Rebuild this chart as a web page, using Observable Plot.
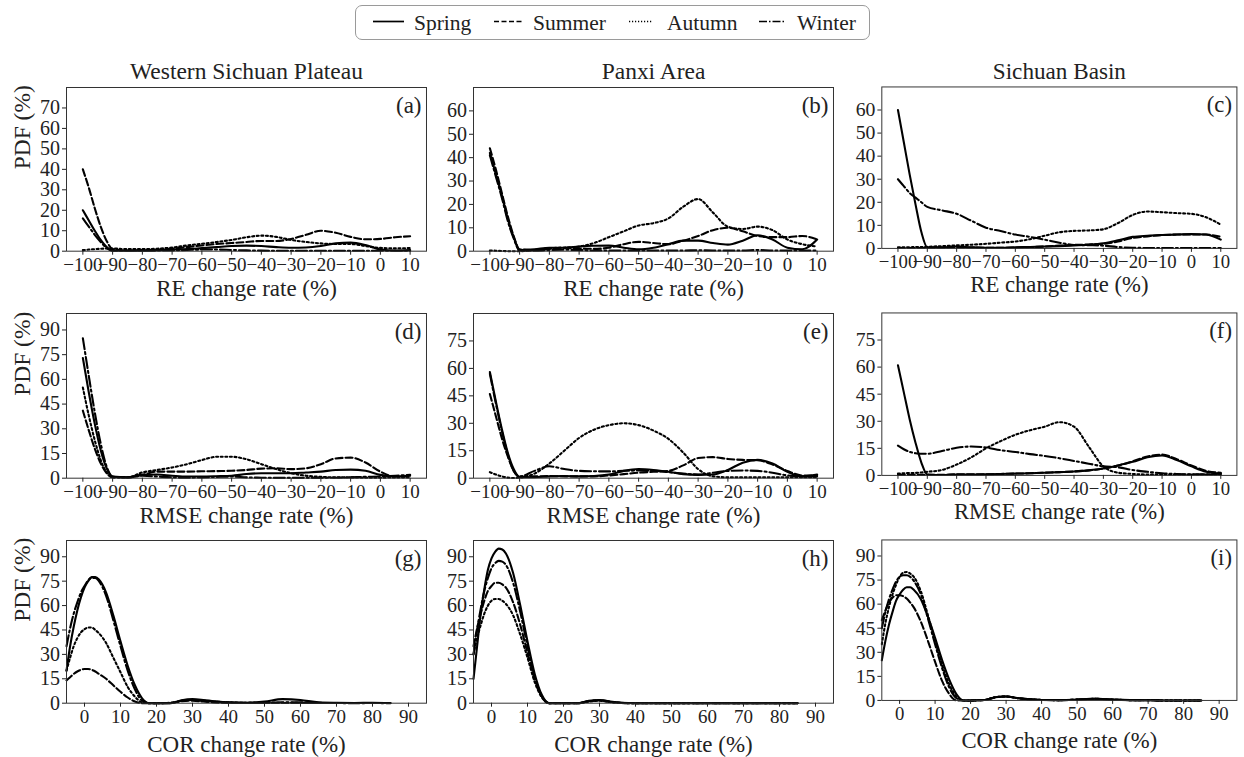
<!DOCTYPE html>
<html>
<head>
<meta charset="utf-8">
<script src="https://cdn.jsdelivr.net/npm/d3@7"></script>
<script src="https://cdn.jsdelivr.net/npm/@observablehq/plot@0.6"></script>
<style>
  html, body { margin: 0; padding: 0; background: #fff; }
  #root { position: relative; width: 1244px; height: 757px; background: #fff; overflow: hidden; font-family: "Liberation Serif", "Times New Roman", serif; }
  .panel { position: absolute; }
  #legend { position: absolute; left: 355px; top: 5px; width: 515px; height: 35px; border: 1px solid #9a9a9a; border-radius: 7px; box-sizing: border-box; }
</style>
</head>
<body>
<div id="root"><div id="legend"></div></div>
<script>
// ---------- labels ----------
const seasons = ["Spring", "Summer", "Autumn", "Winter"];
const regions = ["Western Sichuan Plateau", "Panxi Area", "Sichuan Basin"];
const xLabels = ["RE change rate (%)", "RMSE change rate (%)", "COR change rate (%)"];
const letters = ["(a)", "(b)", "(c)", "(d)", "(e)", "(f)", "(g)", "(h)", "(i)"];
const yLabel = "PDF (%)";

// ---------- tick values ----------
const rateTicks = [-100, -90, -80, -70, -60, -50, -40, -30, -20, -10, 0, 10];
const corTicks = [0, 10, 20, 30, 40, 50, 60, 70, 80, 90];
const yTicksA = [0, 10, 20, 30, 40, 50, 60, 70];
const yTicksBC = [0, 10, 20, 30, 40, 50, 60];
const yTicksD = [0, 15, 30, 45, 60, 75, 90];
const yTicksEF = [0, 15, 30, 45, 60, 75];
const yTicksGHI = [0, 15, 30, 45, 60, 75, 90];

// ---------- x sample points ----------
const gridRate = [-100,-98,-96,-94,-92,-90,-85,-80,-75,-70,-65,-60,-55,-50,-45,-40,-35,-30,-25,-20,-15,-10,-5,0,5,10];
const gridCor = [-5,-4,-3,-2,-1,0,1,2,3,4,6,8,10,12,14,16,18,20,24,27,30,33,36,40,45,50,55,60,65,70,75,80,85];

// ---------- (a) RE, Western Sichuan Plateau ----------
const aSpring = [20,15,10,5.5,2,0.3,0.2,0.3,0.5,0.8,1,1.5,2,2.5,2.7,2.5,2,1.7,1.8,2.5,3.8,4.2,3,0.8,0.3,0.5];
const aSummer = [40,31,21,12,5,1,0.3,0.5,0.8,1.2,2,2.8,3.5,4,4.5,5,5,6,8,10,9,7,5.8,6,6.8,7.3];
const aAutumn = [0.5,0.8,1,1.2,1.3,1.3,1,1,1.2,1.8,2.8,3.6,4.5,5.5,6.8,7.6,7,5.5,4.5,3.8,3.5,3.5,2.5,1.6,1.4,1.5];
const aWinter = [16,12,8,4.5,1.5,0.3,0.2,0.2,0.3,0.4,0.6,0.8,0.8,0.6,0.4,0.3,0.2,0.2,0.2,0.2,0.2,0.2,0.2,0.2,0.2,0.2];
// ---------- (b) RE, Panxi Area ----------
const bSpring = [42,33,24,14,6,0.5,0.8,1.5,1.5,2,2.3,2.4,1.5,0.8,1.5,3,4.5,4.5,3.5,2.8,4.5,6.8,5,1.5,0.8,5];
const bSummer = [44,35,25,15,6.5,0.8,0.5,1,1.5,1.2,1,1.5,3,4,3.5,3,4.5,6.5,9,10,8.5,6.5,6,6,6.5,5];
const bAutumn = [0.3,0.2,0.1,0,0,0,0.5,1.3,1.5,2,3.5,6,8.5,11,12,14,19,22.3,16.5,10.5,9.5,10.5,9,5,3,2];
const bWinter = [41,32,23,13,5.5,0.3,0.2,0.5,0.6,0.5,0.3,0.3,0.3,0.3,0.3,0.3,0.3,0.4,0.3,0.3,0.3,0.5,0.3,0.3,0.3,0.3];
// ---------- (c) RE, Sichuan Basin ----------
const cSpring = [60,46,32,19,7,0.5,0.5,0.8,0.5,0.3,0.3,0.5,0.6,0.8,1,1.3,1.6,2.2,3.5,5,5.5,5.8,6,6.2,6,3.8];
const cSummer = [0.2,0.2,0.2,0.2,0.2,0.2,0.3,0.5,0.4,0.3,0.3,0.4,0.6,0.8,1.2,1.5,1.7,2,3,4.5,5.2,5.8,6,6,6,5];
const cAutumn = [0.5,0.5,0.5,0.6,0.6,0.7,1,1.3,1.6,2,2.5,3,4,5.5,7,7.6,7.8,8.3,11,14.5,16,15.7,15.3,15,13.5,10.3];
const cWinter = [30,27,24,22,20,18,16.5,15,12,9,7.5,6,5,3.8,2.5,1.5,1.4,1.2,0.6,0.3,0.2,0.2,0.2,0.2,0.2,0.2];
// ---------- (d) RMSE, Western Sichuan Plateau ----------
const dSpring = [73,52,33,17,6,1,0.5,2,2.2,1.5,1,1,1.2,1.5,2.5,3,3,3,3.5,4,5,5.2,4.5,2,1,1.5];
const dSummer = [41,29,18,9,3,0.5,0.5,2,4,4,4,4.2,4.3,4.5,5,5.8,6,5.5,6,8.5,12,12.5,9.5,4,1,1];
const dAutumn = [55,38,23,11,3.5,0.5,0.5,3.5,5,6.5,8.5,11,13,13,11.5,8.5,5.5,3,1.5,0.8,0.5,0.5,0.3,0.3,0.5,0.5];
const dWinter = [85,62,40,21,7,1,0.3,1.5,1,0.5,0.3,0.5,0.8,1,0.5,0.3,0.2,0.2,0.2,0.2,0.3,0.5,0.8,1,1.5,2];
// ---------- (e) RMSE, Panxi Area ----------
const eSpring = [58,42,27,14,5,0.5,0.5,1,1.2,1,1.2,2,4,5,4.5,3.5,2.2,1.8,2,4.5,8.5,10,8,3.5,1,2];
const eSummer = [46,34,22,12,4,0.8,1,1.2,1,1,1,1.5,2.2,3,3.5,4,7,11,11.5,10.5,10,9.8,7.5,4,1.5,1.5];
const eAutumn = [3.3,2,1,0.3,0.1,0.3,2.5,8,15,22,26.5,29,30,29,26,21.5,14,5,1,0.5,0.5,0.5,0.5,0.5,0.5,0.5];
const eWinter = [57,41,26,13,4,1,4,6.5,5,4,3.8,3.7,4,4.2,4,3.3,2.5,2,3,4,4.2,4,3,1.5,1,1];
// ---------- (f) RMSE, Sichuan Basin ----------
const fSpring = [61,46,31,18,7,0.5,0.2,0.5,0.5,0.6,0.8,1,1.2,1.5,1.8,2.2,2.8,3.8,5.5,7.5,10,11,8.5,5,2,1];
const fSummer = [0.3,0.3,0.3,0.3,0.3,0.3,0.3,0.6,0.6,0.6,0.8,1,1.2,1.5,1.8,2.2,2.8,3.8,5.5,7.8,10.5,11.5,9,5.5,2.5,1.5];
const fAutumn = [1,1.2,1.3,1.4,1.6,2,3,6,10,15,19,22.5,25,27,29.5,27,16,5,1.5,0.8,0.5,0.5,0.5,0.5,0.5,0.5];
const fWinter = [16.5,14.5,13,12.3,12,12,13.5,15.3,16,15.5,14,13,11.8,10.8,9.5,8,6.5,5,4.5,3,2,1.2,0.8,0.6,0.6,1];
// ---------- (g) COR, Western Sichuan Plateau ----------
const gSpring = [20,35,47,57,65,71,75,77.5,77.5,76,68,54,38,23,11,3,0,0,0,1.8,2.5,2,1.2,0.5,0.3,1,2.5,2,0.5,0.2,0.1,0.3,0.1];
const gSummer = [14,16,18,19.5,20.5,21,21,20.5,19.5,18,15,11,7,3.5,1,0,0,0,0.2,1.2,1.5,1,0.5,0.2,0.1,0.1,0.1,0.1,0.1,0.1,0.1,0.1,0.1];
const gAutumn = [20,28,35,40,43.5,45.5,46.5,46.5,45,43,37,28,19,10,4,0.5,0,0,0.3,1.5,2,1.5,1,0.5,0.2,0.2,0.3,0.2,0.1,0.1,0.1,0.1,0.1];
const gWinter = [35,46,55,62,68,72,75.5,77,77,75,66,51,35,20,8.5,1.5,0,0,0,1.5,2,1.5,1,0.4,0.2,0.3,0.6,0.5,0.2,0.1,0,0.1,0];
// ---------- (h) COR, Panxi Area ----------
const hSpring = [15,35,55,70,82,89,93,95,94.5,92,80,60,38,18,5,0,0,0,0,1.5,2,1,0.3,0,0,0,0,0,0,0,0,0,0];
const hSummer = [35,46,55,63,69,72,74,74,73,71,62,48,31,15,4,0,0,0,0,1.2,1.8,0.8,0.2,0,0,0,0,0,0,0,0,0,0];
const hAutumn = [30,40,48,55,60,63,64,64,63,61,54,42,28,13,3.5,0,0,0,0,1,1.5,0.7,0.2,0,0,0,0,0,0,0,0,0,0];
const hWinter = [30,45,58,69,77,83,86,87.5,87,85,74,56,35,16,4,0,0,0,0,1.2,1.8,0.8,0.2,0,0,0,0,0,0,0,0,0,0];
// ---------- (i) COR, Sichuan Basin ----------
const iSpring = [25,37,47,55,62,66,69,70.5,70.5,69,63,52,39,25,13,4,0,0,0.3,2,2.5,1.5,0.8,0.3,0.2,0.5,1,0.5,0.2,0.1,0,0,0];
const iSummer = [50,56,61,64,65.5,65.5,65,63.5,61,58,49,37,24,12,4,0,0,0,0.3,2,2.5,1.5,0.8,0.3,0.2,0.5,1,0.5,0.2,0.1,0,0,0];
const iAutumn = [35,48,58,66,72,77,79.5,80,79,77,68,53,37,22,10,2.5,0,0,0.3,2,2.5,1.5,0.8,0.3,0.2,0.5,1,0.5,0.2,0.1,0,0,0];
const iWinter = [45,55,63,69,74,77,78,78,77,74.5,66,51,35,20,8,1.5,0,0,0.3,2,2.5,1.5,0.8,0.3,0.2,0.5,1,0.5,0.2,0.1,0,0,0];

// ---------- styling / layout ----------
const dashes = { Spring: "none", Summer: "7,3", Autumn: "2,2.6", Winter: "11,3,2,3" };
const FONT = '"Liberation Serif", "Times New Roman", serif';
const colLeft = [66, 473.3, 881.7];
const frameW = 360;
const rowTop = [87.3, 313, 540];
const frameH = [163.7, 164.7, 162.7];
const labelDy = [37, 37, 41];
const fmt = d3.format("d");

const panels = [
  { row: 0, col: 0, series: [aSpring, aSummer, aAutumn, aWinter], yDomain: [0, 80], yTicks: yTicksA },
  { row: 0, col: 1, series: [bSpring, bSummer, bAutumn, bWinter], yDomain: [0, 70], yTicks: yTicksBC },
  { row: 0, col: 2, series: [cSpring, cSummer, cAutumn, cWinter], yDomain: [0, 70], yTicks: yTicksBC },
  { row: 1, col: 0, series: [dSpring, dSummer, dAutumn, dWinter], yDomain: [0, 100], yTicks: yTicksD },
  { row: 1, col: 1, series: [eSpring, eSummer, eAutumn, eWinter], yDomain: [0, 90], yTicks: yTicksEF },
  { row: 1, col: 2, series: [fSpring, fSummer, fAutumn, fWinter], yDomain: [0, 90], yTicks: yTicksEF },
  { row: 2, col: 0, series: [gSpring, gSummer, gAutumn, gWinter], yDomain: [0, 100], yTicks: yTicksGHI },
  { row: 2, col: 1, series: [hSpring, hSummer, hAutumn, hWinter], yDomain: [0, 100], yTicks: yTicksGHI },
  { row: 2, col: 2, series: [iSpring, iSummer, iAutumn, iWinter], yDomain: [0, 100], yTicks: yTicksGHI }
];

const root = document.getElementById("root");

panels.forEach((p, k) => {
  const isCor = p.row === 2;
  const grid = isCor ? gridCor : gridRate;
  const mL = p.col === 0 ? 70 : 50, mR = 8, mT = 40, mB = 54;
  const marks = [];
  p.series.forEach((vals, s) => {
    const data = grid.map((x, i) => ({ x, y: vals[i] }));
    marks.push(Plot.line(data, {
      x: "x", y: "y", stroke: "black", strokeWidth: 2.1,
      strokeDasharray: dashes[seasons[s]], curve: "monotone-x"
    }));
  });
  marks.push(Plot.frame({ stroke: "#333", strokeWidth: 1 }));
  marks.push(Plot.axisX({ ticks: isCor ? corTicks : rateTicks, tickFormat: fmt, tickSize: 4, tickPadding: 2, label: null, fontSize: 19 }));
  marks.push(Plot.axisY({ ticks: p.yTicks, tickFormat: fmt, tickSize: 4, tickPadding: 2.5, label: null, fontSize: 20 }));
  marks.push(Plot.text([xLabels[p.row]], { text: d => d, frameAnchor: "bottom", dy: labelDy[p.row], lineAnchor: "middle", fontSize: 23 }));
  marks.push(Plot.text([letters[k]], { text: d => d, frameAnchor: "top-right", dx: -5, dy: 18, lineAnchor: "middle", textAnchor: "end", fontSize: 23 }));
  if (p.row === 0) {
    marks.push(Plot.text([regions[p.col]], { text: d => d, frameAnchor: "top", dy: -16, lineAnchor: "middle", fontSize: 23.5 }));
  }
  if (p.col === 0) {
    marks.push(Plot.text([yLabel], { text: d => d, frameAnchor: "left", dx: -44, rotate: -90, lineAnchor: "middle", fontSize: 23.5 }));
  }
  const chart = Plot.plot({
    width: mL + frameW + mR,
    height: mT + frameH[p.row] + mB,
    marginLeft: mL, marginRight: mR, marginTop: mT, marginBottom: mB,
    x: { domain: isCor ? [-5, 95] : [-105.5, 15.5] },
    y: { domain: p.yDomain },
    style: { fontFamily: FONT, fontSize: "20px", background: "transparent", color: "#222", overflow: "visible" },
    marks
  });
  const wrap = document.createElement("div");
  wrap.className = "panel";
  wrap.style.left = (colLeft[p.col] - mL) + "px";
  wrap.style.top = (rowTop[p.row] - mT) + "px";
  wrap.appendChild(chart);
  root.appendChild(wrap);
});

// ---------- legend ----------
const legendItems = [
  { name: "Spring", x1: 17, x2: 48, tx: 58 },
  { name: "Summer", x1: 138, x2: 166, tx: 177 },
  { name: "Autumn", x1: 273, x2: 297, tx: 311 },
  { name: "Winter", x1: 403, x2: 430, tx: 441 }
];
const lsvg = d3.select("#legend").append("svg").attr("width", 513).attr("height", 33)
  .style("font-family", FONT).style("display", "block");
legendItems.forEach(it => {
  lsvg.append("line").attr("x1", it.x1).attr("x2", it.x2).attr("y1", 15.5).attr("y2", 15.5)
    .attr("stroke", "black").attr("stroke-width", 1.7)
    .attr("stroke-dasharray", it.name === "Spring" ? null :
      it.name === "Summer" ? "5,2.5" : it.name === "Autumn" ? "1.2,1.8" : "8,2,1.5,2");
  lsvg.append("text").attr("x", it.tx).attr("y", 23.5).attr("font-size", 21.5).attr("fill", "#222").text(it.name);
});
</script>
</body>
</html>
